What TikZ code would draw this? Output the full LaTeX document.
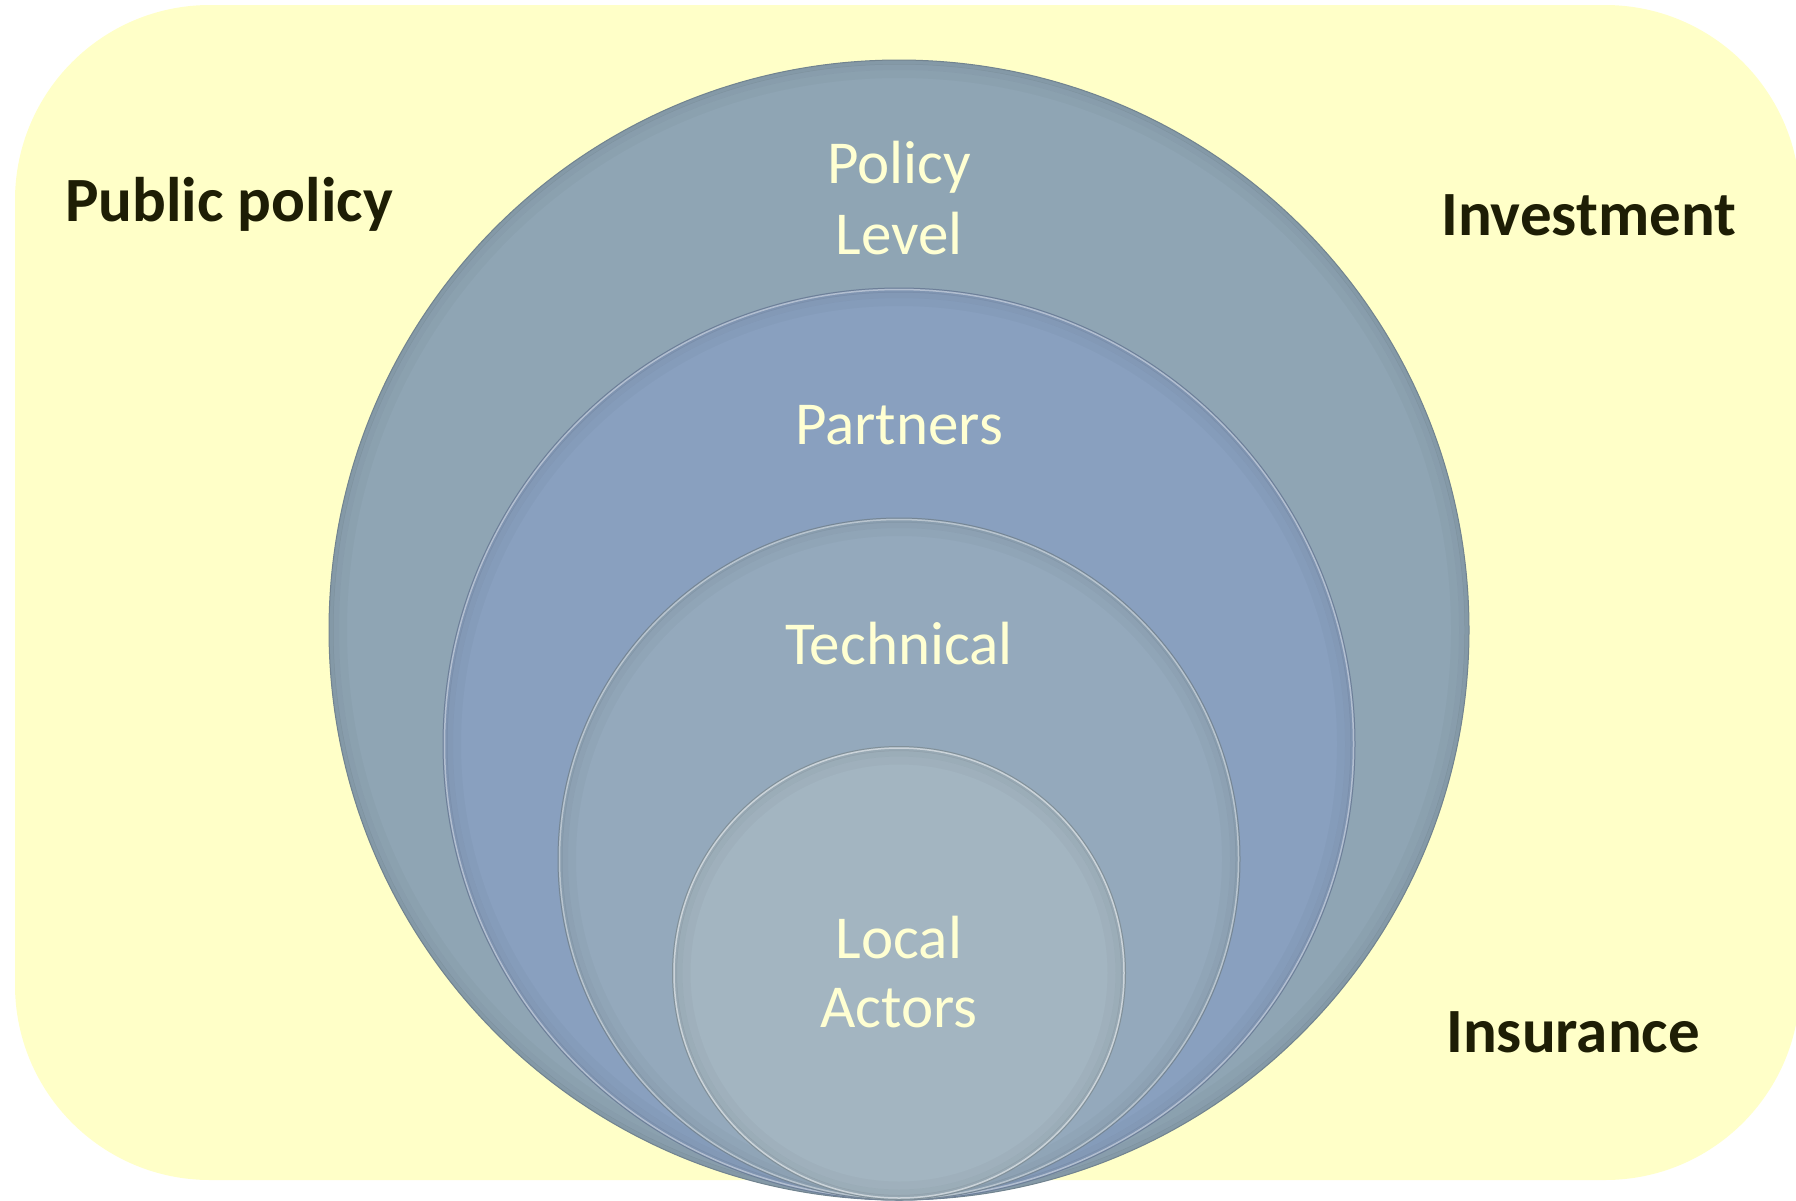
\documentclass[tikz,border=0pt]{standalone}
\usepackage{fontspec}
\setmainfont{Carlito}
\definecolor{bgyellow}{HTML}{FFFFC8}
\definecolor{ringA}{HTML}{8FA5B4}
\definecolor{ringB}{HTML}{89A0BF}
\definecolor{ringC}{HTML}{94A9BC}
\definecolor{ringD}{HTML}{A3B5C1}
\definecolor{lbltext}{HTML}{FFFFD2}
\definecolor{sidetext}{HTML}{1E1E05}
\tikzset{
  ringnode/.style={circle, inner sep=0pt, draw=#1!80!black, line width=1pt, fill=#1},
  softshade/.style={black, opacity=#1},
  ringlabel/.style={anchor=base, inner sep=0pt, text=lbltext, font=\fontsize{61}{71}\selectfont},
  sidelabel/.style={anchor=base west, inner sep=0pt, text=sidetext, font=\fontsize{63}{75}\selectfont\bfseries},
}
\newcommand{\bevelring}[2]{%
  \draw[softshade=0.07, line width=4pt] (#1.center) circle[radius=#2-2.5pt];
  \draw[softshade=0.045, line width=6pt] (#1.center) circle[radius=#2-7pt];
  \draw[softshade=0.025, line width=8pt] (#1.center) circle[radius=#2-14pt];
}
\begin{document}
\begin{tikzpicture}[x=1pt,y=-1pt]
\useasboundingbox (0,0) rectangle (1796,1200);
% yellow rounded background
\fill[bgyellow, rounded corners=195pt] (15,5) rectangle (1800,1180);
% circles
\node[ringnode=ringA, minimum size=1140pt] (outer) at (899,630) {};
\bevelring{outer}{570pt}
\node[ringnode=ringB, minimum size=912pt] (partners) at (899,744) {};
\bevelring{partners}{456pt}
\draw[white, opacity=0.4, line width=1.5pt] (partners.center) circle[radius=454.5pt];
\node[ringnode=ringC, minimum size=682pt] (technical) at (899,859) {};
\bevelring{technical}{341pt}
\draw[white, opacity=0.4, line width=1.5pt] (technical.center) circle[radius=339.5pt];
\node[ringnode=ringD, minimum size=453pt] (local) at (899,973) {};
\bevelring{local}{226.5pt}
\draw[white, opacity=0.5, line width=1.5pt] (local.center) circle[radius=225pt];
% circle labels
\node[ringlabel] (policy1) at (899,183) {Policy};
\node[ringlabel] (policy2) at (899,254) {Level};
\node[ringlabel] (partnerslbl) at (899,444) {Partners};
\node[ringlabel] (technicallbl) at (899,664) {Technical};
\node[ringlabel] (local1) at (899,958) {Local};
\node[ringlabel] (local2) at (899,1027) {Actors};
% side labels
\node[sidelabel] (public) at (65,221) {Public policy};
\node[sidelabel] (invest) at (1441,235) {Investment};
\node[sidelabel] (insur) at (1446,1052) {Insurance};
\end{tikzpicture}
\end{document}
